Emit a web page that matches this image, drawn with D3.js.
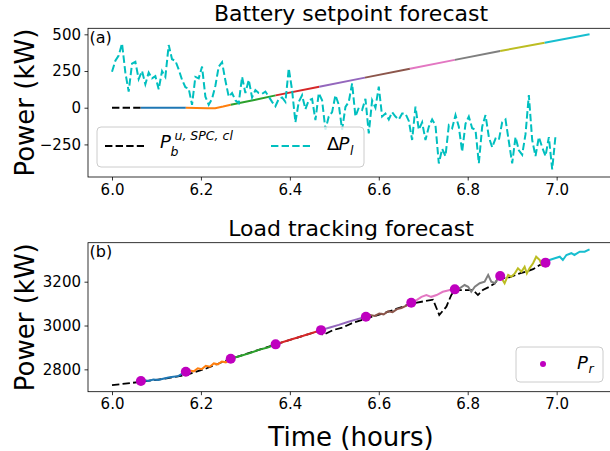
<!DOCTYPE html>
<html>
<head>
<meta charset="utf-8">
<script src="https://cdn.jsdelivr.net/npm/d3@7"></script>
<style>
  body { margin: 0; background: #fff; }
  text { font-family: "DejaVu Sans", sans-serif; fill: #000; }
</style>
</head>
<body>
<svg id="chart" width="610" height="451"></svg>
<script>
// ---- data ----
var hourTicks = [6.0, 6.2, 6.4, 6.6, 6.8, 7.0];
var topTicks = [-250, 0, 250, 500];
var botTicks = [2800, 3000, 3200];
var segColors = ["#1f77b4", "#ff7f0e", "#2ca02c", "#d62728", "#9467bd",
                 "#8c564b", "#e377c2", "#7f7f7f", "#bcbd22", "#17becf"];

// (a) battery setpoint
var pbHours = [6.0, 6.065];
var pbValues = [0, 0];
var spHours = [
  [6.065, 6.166],
  [6.166, 6.19, 6.215, 6.232, 6.25, 6.267],
  [6.267, 6.32, 6.368],
  [6.368, 6.466],
  [6.466, 6.569],
  [6.569, 6.67],
  [6.67, 6.771],
  [6.771, 6.873],
  [6.873, 6.973],
  [6.973, 7.074]
];
var spValues = [
  [0, 0],
  [0, -2, -4, -3, 8, 20],
  [20, 52, 84],
  [84, 143],
  [143, 205],
  [205, 265],
  [265, 326],
  [326, 386],
  [386, 443],
  [443, 500]
];
// delta P_l, sampled every 0.0075 h from 6.0
var dplStart = 6.0, dplStep = 0.0075;
var dplValues = [245, 320, 355, 438, 240, 110, 300, 313, 195, 250,
  160, 240, 200, 215, 125, 250, 210, 427, 330, 320,
  260, 190, 140, 130, 20, 210, 200, 280, 75, 20,
  60, 150, 280, 310, 185, 75, 100, 50, 30, 210,
  100, 190, 70, 120, 100, 95, 110, 75, 40, 10,
  60, 70, 40, 268, 120, -100, 40, 85, -10, 50,
  60, -85, 100, 50, -150, -60, -30, 85, 20, -150,
  5, 40, 166, -60, 0, -15, 60, -175, 50, 0,
  143, -60, -40, -80, -30, -60, -80, -40, -40, -90,
  -220, 7, -150, -100, -220, -130, -80, -120, -380, -280,
  -330, -120, -140, -50, -130, -300, -110, -60, -140, -150,
  -379, -130, -50, -200, -270, -210, -220, -100, -80, -230,
  -379, -200, -290, -320, -180, 86, -220, -330, -200, -270,
  -330, -200, -420, -190];

// (b) load tracking
var refHours = [6.0, 6.065, 6.123, 6.166, 6.213, 6.25, 6.267, 6.368, 6.462, 6.475,
  6.497, 6.52, 6.539, 6.561, 6.58, 6.62, 6.673, 6.722, 6.736, 6.752,
  6.763, 6.771, 6.812, 6.823, 6.834, 6.849, 6.861, 6.872, 6.887, 6.902,
  6.917, 6.932, 6.947, 6.962, 6.975];
var refValues = [2728, 2743, 2759, 2774, 2805, 2835, 2848, 2914, 2973, 2957,
  2979, 2992, 3010, 3025, 3037, 3062, 3100, 3118, 3048, 3086,
  3139, 3162, 3162, 3139, 3162, 3177, 3193, 3223, 3215, 3226,
  3238, 3246, 3257, 3276, 3287];
var trHours = [
  [6.065, 6.070, 6.082, 6.093, 6.104, 6.115, 6.127, 6.138, 6.149, 6.157, 6.166],
  [6.166, 6.175, 6.184, 6.193, 6.202, 6.211, 6.220, 6.229, 6.238, 6.247, 6.256, 6.267],
  [6.267, 6.29, 6.31, 6.33, 6.35, 6.368],
  [6.368, 6.39, 6.41, 6.43, 6.45, 6.47],
  [6.47, 6.49, 6.51, 6.53, 6.55, 6.571],
  [6.571, 6.581, 6.591, 6.601, 6.611, 6.621, 6.631, 6.641, 6.651, 6.661, 6.673],
  [6.673, 6.685, 6.696, 6.707, 6.718, 6.730, 6.744, 6.760, 6.771],
  [6.771, 6.782, 6.793, 6.801, 6.808, 6.816, 6.827, 6.838, 6.846, 6.853, 6.861, 6.868, 6.873],
  [6.873, 6.883, 6.891, 6.898, 6.906, 6.913, 6.921, 6.928, 6.933, 6.939, 6.947, 6.954, 6.962, 6.966, 6.975],
  [6.975, 6.984, 6.996, 7.007, 7.014, 7.022, 7.033, 7.040, 7.052, 7.063, 7.074]
];
var trValues = [
  [2747, 2751, 2747, 2754, 2751, 2757, 2763, 2766, 2769, 2779, 2789],
  [2789, 2795, 2791, 2805, 2801, 2816, 2812, 2827, 2823, 2836, 2832, 2848],
  [2848, 2862, 2874, 2889, 2900, 2914],
  [2914, 2928, 2941, 2953, 2966, 2979],
  [2979, 2991, 3003, 3016, 3028, 3040],
  [3040, 3048, 3044, 3055, 3051, 3065, 3061, 3075, 3080, 3090, 3104],
  [3104, 3116, 3131, 3139, 3131, 3139, 3154, 3162, 3165],
  [3165, 3170, 3185, 3177, 3154, 3177, 3193, 3200, 3231, 3200, 3193, 3215, 3226],
  [3226, 3193, 3231, 3223, 3238, 3261, 3246, 3268, 3238, 3261, 3284, 3314, 3299, 3276, 3287],
  [3287, 3299, 3307, 3314, 3299, 3322, 3330, 3322, 3337, 3337, 3348]
];
var prHours = [6.065, 6.166, 6.267, 6.368, 6.47, 6.571, 6.673, 6.771, 6.873, 6.975];
var prValues = [2747, 2789, 2848, 2914, 2979, 3040, 3104, 3165, 3226, 3287];

// ---- layout ----
var left = 88, right = 614;
var topPanel = {y0: 28.3, y1: 177};
var botPanel = {y0: 242.7, y1: 391.7};

var svg = d3.select("#chart");

var x = d3.scaleLinear().domain([5.946, 7.129]).range([left, right]);
var yTop = d3.scaleLinear().domain([-472, 541]).range([topPanel.y1, topPanel.y0]);
var yBot = d3.scaleLinear().domain([2698, 3378]).range([botPanel.y1, botPanel.y0]);

var fmtY = function(d) { return d < 0 ? "\u2212" + Math.abs(d) : String(d); };

function panel(id, y, p, yticks, title, tag) {
  svg.append("clipPath").attr("id", id)
    .append("rect").attr("x", left).attr("y", p.y0)
    .attr("width", right - left).attr("height", p.y1 - p.y0);

  var gx = svg.append("g")
    .attr("transform", "translate(0," + p.y1 + ")")
    .call(d3.axisBottom(x).tickValues(hourTicks).tickFormat(d3.format(".1f"))
      .tickSize(3.5).tickPadding(3.5).tickSizeOuter(0));
  var gy = svg.append("g")
    .attr("transform", "translate(" + left + ",0)")
    .call(d3.axisLeft(y).tickValues(yticks).tickFormat(fmtY)
      .tickSize(3.5).tickPadding(3.5).tickSizeOuter(0));
  [gx, gy].forEach(function(g) {
    g.select(".domain").remove();
    g.selectAll("text").style("font-size", "15px").style("font-family", "DejaVu Sans");
    g.selectAll("line").attr("stroke", "#000").attr("stroke-width", 0.8);
  });

  svg.append("rect")
    .attr("x", left).attr("y", p.y0)
    .attr("width", right - left).attr("height", p.y1 - p.y0)
    .attr("fill", "none").attr("stroke", "#000").attr("stroke-width", 0.8);

  svg.append("text")
    .attr("x", (left + right) / 2).attr("y", p.y0 - 7)
    .attr("text-anchor", "middle").style("font-size", "22px")
    .text(title);

  svg.append("text")
    .attr("transform", "translate(34," + ((p.y0 + p.y1) / 2) + ") rotate(-90)")
    .attr("text-anchor", "middle").style("font-size", "26px")
    .text("Power (kW)");

  svg.append("text")
    .attr("x", left + 1.5).attr("y", p.y0 + 14.5)
    .style("font-size", "16px").text(tag);

  return svg.append("g").attr("clip-path", "url(#" + id + ")");
}

function lineOf(y) {
  return d3.line().x(function(d) { return x(d[0]); }).y(function(d) { return y(d[1]); });
}

// ---- (a) ----
var ga = panel("clipA", yTop, topPanel, topTicks, "Battery setpoint forecast", "(a)");
var la = lineOf(yTop);

ga.append("path")
  .datum(d3.zip(pbHours, pbValues))
  .attr("d", la).attr("fill", "none")
  .attr("stroke", "#000").attr("stroke-width", 2).attr("stroke-dasharray", "7.4,3.2");

spHours.forEach(function(h, i) {
  ga.append("path")
    .datum(d3.zip(h, spValues[i]))
    .attr("d", la).attr("fill", "none")
    .attr("stroke", segColors[i]).attr("stroke-width", 2);
});

ga.append("path")
  .datum(dplValues.map(function(v, i) { return [dplStart + i * dplStep, v]; }))
  .attr("d", la).attr("fill", "none")
  .attr("stroke", "#00bfbf").attr("stroke-width", 2).attr("stroke-dasharray", "7.4,3.2");

// legend (a)
svg.append("rect")
  .attr("x", 97).attr("y", 127).attr("width", 267).attr("height", 40).attr("rx", 4)
  .attr("fill", "#fff").attr("fill-opacity", 0.8)
  .attr("stroke", "#cccccc").attr("stroke-width", 1);
svg.append("line").attr("x1", 105).attr("x2", 144).attr("y1", 146).attr("y2", 146)
  .attr("stroke", "#000").attr("stroke-width", 2).attr("stroke-dasharray", "7.4,3.2");
svg.append("text").attr("x", 160).attr("y", 148).style("font-size", "18px")
  .style("font-style", "italic").text("P");
svg.append("text").attr("x", 170.5).attr("y", 155.5).style("font-size", "12.5px")
  .style("font-style", "italic").text("b");
svg.append("text").attr("x", 174.5).attr("y", 140).style("font-size", "12.5px")
  .style("font-style", "italic").text("u, SPC, cl");
svg.append("line").attr("x1", 271).attr("x2", 310).attr("y1", 146).attr("y2", 146)
  .attr("stroke", "#00bfbf").attr("stroke-width", 2).attr("stroke-dasharray", "7.4,3.2");
svg.append("text").attr("x", 327).attr("y", 150).style("font-size", "18px").text("\u0394");
svg.append("text").attr("x", 338.5).attr("y", 150).style("font-size", "18px")
  .style("font-style", "italic").text("P");
svg.append("text").attr("x", 350).attr("y", 155).style("font-size", "12.5px")
  .style("font-style", "italic").text("l");

// ---- (b) ----
var gb = panel("clipB", yBot, botPanel, botTicks, "Load tracking forecast", "(b)");
var lb = lineOf(yBot);

gb.append("path")
  .datum(d3.zip(refHours, refValues))
  .attr("d", lb).attr("fill", "none")
  .attr("stroke", "#000").attr("stroke-width", 1.8).attr("stroke-dasharray", "7.4,3.2");

trHours.forEach(function(h, i) {
  gb.append("path")
    .datum(d3.zip(h, trValues[i]))
    .attr("d", lb).attr("fill", "none")
    .attr("stroke", segColors[i]).attr("stroke-width", 2);
});

gb.selectAll("circle.pr")
  .data(d3.zip(prHours, prValues))
  .enter().append("circle").attr("class", "pr")
  .attr("cx", function(d) { return x(d[0]); })
  .attr("cy", function(d) { return yBot(d[1]); })
  .attr("r", 5).attr("fill", "#bf00bf");

// legend (b)
svg.append("rect")
  .attr("x", 516).attr("y", 347).attr("width", 87).attr("height", 35).attr("rx", 4)
  .attr("fill", "#fff").attr("fill-opacity", 0.8)
  .attr("stroke", "#cccccc").attr("stroke-width", 1);
svg.append("circle").attr("cx", 543).attr("cy", 364).attr("r", 3).attr("fill", "#bf00bf");
svg.append("text").attr("x", 577).attr("y", 368.5).style("font-size", "18px")
  .style("font-style", "italic").text("P");
svg.append("text").attr("x", 588.5).attr("y", 372.5).style("font-size", "12.5px")
  .style("font-style", "italic").text("r");

// x label
svg.append("text")
  .attr("x", (left + right) / 2).attr("y", 446)
  .attr("text-anchor", "middle").style("font-size", "26px")
  .text("Time (hours)");
</script>
</body>
</html>
